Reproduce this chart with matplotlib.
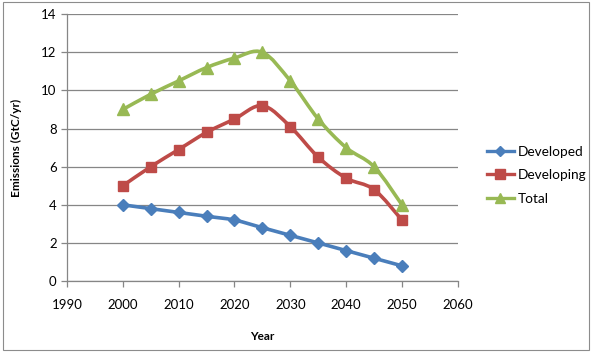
import numpy as np
import matplotlib
matplotlib.use("Agg")
import matplotlib.pyplot as plt
from matplotlib.path import Path
from matplotlib.patches import PathPatch, Rectangle
from matplotlib.lines import Line2D

plt.rcParams['font.family'] = ['Lato', 'DejaVu Sans']

# Data
years = [2000, 2005, 2010, 2015, 2020, 2025, 2030, 2035, 2040, 2045, 2050]
developed = [4.0, 3.8, 3.6, 3.4, 3.2, 2.8, 2.4, 2.0, 1.6, 1.2, 0.8]
developing = [5.0, 6.0, 6.9, 7.8, 8.5, 9.2, 8.1, 6.5, 5.4, 4.8, 3.2]
total = [9.0, 9.8, 10.5, 11.2, 11.7, 12.0, 10.5, 8.5, 7.0, 6.0, 4.0]

series = [
    ('Developed', developed, '#4A7EBB', 'D', 6),
    ('Developing', developing, '#BE4B48', 's', 7.5),
    ('Total', total, '#98B954', '^', 8),
]


def smooth_path(x, y):
    # Excel-like smoothed line: Catmull-Rom as cubic Bezier segments
    x = np.asarray(x, float)
    y = np.asarray(y, float)
    verts = [(x[0], y[0])]
    codes = [Path.MOVETO]
    n = len(x)
    for i in range(n - 1):
        i0 = max(i - 1, 0)
        i3 = min(i + 2, n - 1)
        c1 = (x[i] + (x[i + 1] - x[i0]) / 6, y[i] + (y[i + 1] - y[i0]) / 6)
        c2 = (x[i + 1] - (x[i3] - x[i]) / 6, y[i + 1] - (y[i3] - y[i]) / 6)
        verts += [c1, c2, (x[i + 1], y[i + 1])]
        codes += [Path.CURVE4] * 3
    return Path(verts, codes)


fig = plt.figure(figsize=(5.93, 3.54), dpi=100)
fig.patches.append(Rectangle((0.005, 0.011), 0.988, 0.983, transform=fig.transFigure,
                             fill=False, edgecolor='#8c8c8c', linewidth=0.8))

ax = fig.add_axes([0.113, 0.206, 0.659, 0.754])

handles = []
for name, vals, col, mk, ms in series:
    ax.add_patch(PathPatch(smooth_path(years, vals), fill=False, edgecolor=col,
                           linewidth=2.6, capstyle='round', joinstyle='round', zorder=3))
    ax.plot(years, vals, linestyle='none', marker=mk, markersize=ms, color=col,
            markeredgecolor=col, zorder=4)
    handles.append(Line2D([], [], color=col, linewidth=2.4, marker=mk, markersize=ms - 1))

ax.set_xlim(1990, 2060)
ax.set_ylim(0, 14)
ax.set_xticks(range(1990, 2061, 10))
ax.set_yticks(range(0, 15, 2))
ax.grid(axis='y', color='#868686', linewidth=0.9)
ax.set_axisbelow(True)
for s in ['top', 'right']:
    ax.spines[s].set_visible(False)
for s in ['left', 'bottom']:
    ax.spines[s].set_color('#868686')
    ax.spines[s].set_linewidth(0.9)
ax.tick_params(axis='both', colors='#868686', labelcolor='black', labelsize=9.5,
               length=4, width=0.9)
ax.tick_params(axis='x', pad=9)

ax.set_xlabel('Year', fontsize=8.5, fontweight='bold', labelpad=14)
ax.set_ylabel('Emissions (GtC/yr)', fontsize=8.5, fontweight='bold', labelpad=14)

fig.legend(handles, [s[0] for s in series], loc='center left',
           bbox_to_anchor=(0.80, 0.505), frameon=False, fontsize=9.8,
           handlelength=2.0, labelspacing=0.85, handletextpad=0.3)

fig.savefig('out.png', dpi=100)
